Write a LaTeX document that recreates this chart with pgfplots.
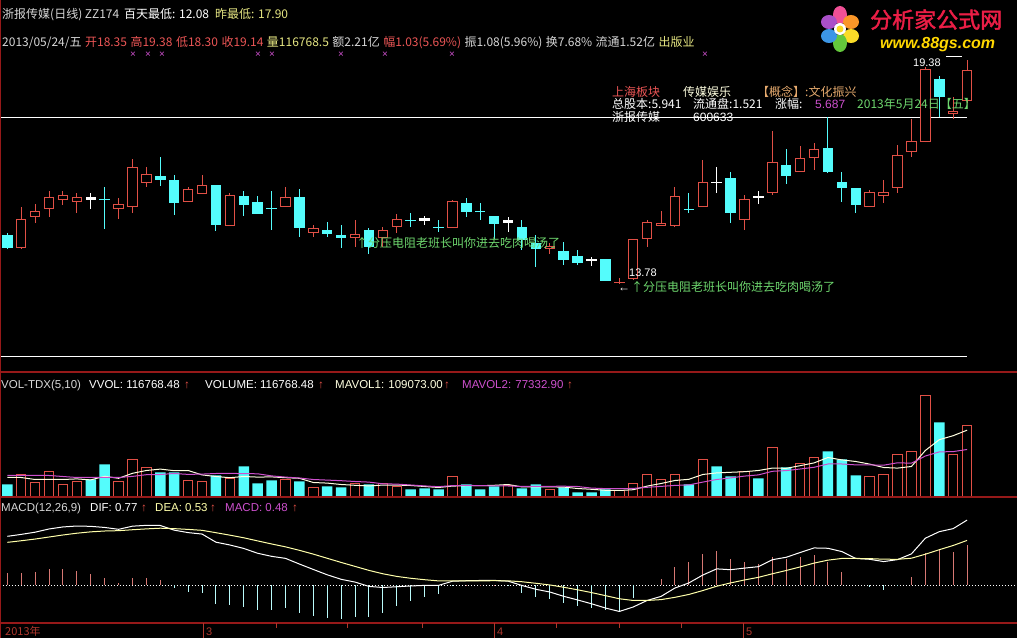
\documentclass[border=0pt]{standalone}
\usepackage{pgfplots}
\pgfplotsset{compat=1.18}
\usepackage{pgfplotstable}
\usepackage{fontspec}
\setmainfont{Liberation Sans}
\newfontfamily\cjk[AutoFakeBold=2]{Noto Sans CJK SC}

\definecolor{cRed}{RGB}{225,80,70}
\definecolor{cCyan}{RGB}{84,252,252}
\definecolor{cSep}{RGB}{150,25,25}
\definecolor{cGray}{RGB}{215,215,215}
\definecolor{cTxtRed}{RGB}{235,85,85}
\definecolor{cYel}{RGB}{230,230,130}
\definecolor{cPur}{RGB}{205,80,205}
\definecolor{cGreen}{RGB}{110,215,110}
\definecolor{cTan}{RGB}{230,170,110}
\definecolor{cMA5}{RGB}{255,255,225}
\definecolor{cDEA}{RGB}{255,255,170}
\definecolor{cHR}{RGB}{215,120,115}
\definecolor{cHC}{RGB}{185,250,250}
\definecolor{cAx}{RGB}{175,55,45}
\definecolor{lPink}{RGB}{240,80,150}
\definecolor{lOrange}{RGB}{250,150,40}
\definecolor{lYellow}{RGB}{250,220,40}
\definecolor{lGreen}{RGB}{100,200,60}
\definecolor{lBlue}{RGB}{60,150,230}
\definecolor{lPurple}{RGB}{170,80,200}
\definecolor{lRed}{RGB}{235,30,70}
\definecolor{lGold}{RGB}{255,215,0}

\newcommand{\fs}[1]{\fontsize{#1bp}{#1bp}\selectfont}
\newcommand{\gap}{\hspace{3.5bp}}

\pgfplotsset{
  wick/.style={forget plot, draw=none, mark=none,
    error bars/.cd, y dir=plus, y explicit, error mark=none,
    error bar style={draw=#1, line width=1bp, solid}},
  body/.style 2 args={forget plot, draw=none, mark=none,
    error bars/.cd, y dir=plus, y explicit, error mark=none,
    error bar style={draw=#1, line width=#2, solid, line cap=butt}},
  panel/.style={scale only axis, width=1017bp, xmin=-0.5248, xmax=72.588,
    hide axis, anchor=south west},
}

% up (red hollow) candles: i open high low close
\pgfplotstableread{
i o h l c
1 14.68 15.705 14.66 15.405
2 15.455 15.78 15.305 15.605
3 15.655 16.105 15.455 15.955
4 15.88 16.105 15.755 16.005
5 15.83 16.055 15.555 15.955
8 15.655 15.93 15.405 15.78
9 15.705 16.905 15.555 16.705
10 16.305 16.705 16.205 16.53
13 15.83 16.205 15.83 16.155
14 16.03 16.505 16.03 16.255
16 15.23 16.055 15.23 16.005
20 15.705 16.205 15.705 15.955
22 15.055 15.255 14.955 15.18
25 14.93 15.38 14.705 15.03
27 14.93 15.205 14.705 15.13
28 15.205 15.53 15.055 15.405
32 15.18 15.88 15.18 15.855
39 14.655 14.805 14.53 14.73
44 13.80 13.93 13.78 13.825
45 13.905 14.905 13.88 14.905
46 14.905 15.38 14.705 15.33
47 15.23 15.605 15.23 15.305
48 15.23 16.205 15.205 15.98
50 15.705 16.88 15.705 16.33
53 15.38 16.005 15.13 15.905
55 16.055 17.605 16.005 16.83
57 16.58 17.23 16.58 16.93
58 16.93 17.305 16.63 17.155
62 15.705 16.13 15.705 16.08
63 15.98 16.38 15.805 16.08
64 16.18 17.255 16.055 17.005
65 17.08 17.905 16.955 17.355
66 17.33 19.20 17.33 19.15
68 18.03 18.46 17.90 18.11
69 18.35 19.38 18.30 19.14
}\upc

% down (cyan filled) candles
\pgfplotstableread{
i o h l c
0 15.005 15.055 14.655 14.68
7 15.905 16.205 15.155 15.88
11 16.48 16.955 16.23 16.38
12 16.38 16.505 15.505 15.805
15 16.255 16.255 15.105 15.255
17 15.98 16.105 15.48 15.755
18 15.83 15.98 15.53 15.53
19 15.68 16.105 15.13 15.655
21 15.955 16.155 14.955 15.18
23 15.13 15.33 14.955 15.03
24 15.005 15.255 14.68 14.93
26 15.13 15.18 14.53 14.705
29 15.38 15.555 15.205 15.355
31 15.205 15.38 15.08 15.18
33 15.805 15.93 15.455 15.58
34 15.605 15.805 15.38 15.58
35 15.48 15.48 14.905 15.28
37 15.205 15.38 14.63 14.88
38 14.805 15.005 14.205 14.655
40 14.605 14.83 14.255 14.38
41 14.48 14.63 14.255 14.305
43 14.405 14.405 13.855 13.855
49 15.655 16.055 15.555 15.63
52 16.43 16.58 15.305 15.555
56 16.755 17.155 16.28 16.48
59 17.18 17.955 16.555 16.58
60 16.33 16.58 15.83 16.18
61 16.18 16.18 15.555 15.755
67 18.905 18.99 17.96 18.46
}\downc

% white (flat) candles
\pgfplotstableread{
i o h l c
6 15.955 16.055 15.655 15.88
30 15.43 15.48 15.255 15.355
36 15.38 15.455 15.08 15.305
42 14.405 14.455 14.23 14.355
51 16.33 16.705 16.055 16.305
54 15.98 16.105 15.78 15.93
}\whitec

% volume
\pgfplotstableread{
i v
1 36190
2 23030
3 41125
4 19740
5 24675
8 24675
9 60865
10 47705
13 26320
14 24675
16 29610
20 27965
22 14805
25 21385
27 21385
28 16450
32 32900
36 18095
39 11515
44 9870
45 21385
46 36190
47 27965
48 36190
50 60865
53 41125
55 80605
57 54285
58 64155
62 32900
63 36190
64 69090
65 74025
66 166145
68 69090
69 116768
}\volup

\pgfplotstableread{
i v
0 19740
6 27965
7 52640
11 39480
12 39480
15 34545
17 49350
18 21385
19 26320
21 24675
23 16450
24 14805
26 19740
29 11515
30 13160
31 11515
33 19740
34 11515
35 16450
37 13160
38 19740
40 14805
41 6580
42 6580
43 11515
49 19740
51 49350
52 32900
54 29610
56 47705
59 74025
60 60865
61 34545
67 121730
}\voldown

% volume moving averages
\pgfplotstableread{
i ma5 ma10
0 31255 34545
1 31255 34545
2 27965 34545
3 27965 34545
4 27965 32900
5 28952 31255
6 27307 31255
7 33229 31255
8 29939 31255
9 38164 33065
10 42770 35861
11 45073 36190
12 42441 37835
13 42770 36355
14 35532 36848
15 32900 37835
16 30926 38000
17 32900 37671
18 31913 37342
19 32242 33887
20 30926 31913
21 29939 30433
22 23030 27965
23 22043 26978
24 19740 25991
25 18424 24675
26 17437 23688
27 18753 20892
28 18753 20398
29 18095 18918
30 16450 17437
31 14805 16121
32 17108 17931
33 17766 18260
34 17766 17931
35 18424 17437
36 19740 17273
37 15792 16450
38 15792 16779
39 15792 16779
40 15463 16944
41 13160 16450
42 11844 13818
43 10199 12996
44 9870 12831
45 11186 13325
46 17108 15134
47 21385 16615
48 26320 18260
49 28294 19082
50 36190 23688
51 38822 27965
52 39809 30597
53 40796 33558
54 42770 35532
55 46718 41454
56 46389 42606
57 50666 45238
58 55272 48034
59 64155 53463
60 60207 53463
61 57575 51982
62 53298 51982
63 47705 51489
64 46718 55437
65 49350 54779
66 75670 66623
67 93436 73367
68 100016 73861
69 109073 77333
}\volma

% MACD: DIF, DEA
\pgfplotstableread{
i dif dea
0 0.578 0.507
1 0.601 0.526
2 0.627 0.546
3 0.665 0.570
4 0.689 0.594
5 0.700 0.615
6 0.696 0.631
7 0.683 0.641
8 0.661 0.645
9 0.698 0.656
10 0.708 0.666
11 0.706 0.674
12 0.651 0.669
13 0.622 0.660
14 0.605 0.649
15 0.509 0.621
16 0.476 0.592
17 0.435 0.561
18 0.378 0.524
19 0.342 0.488
20 0.318 0.454
21 0.251 0.413
22 0.187 0.368
23 0.124 0.319
24 0.071 0.270
25 0.038 0.223
26 -0.013 0.176
27 -0.026 0.136
28 -0.017 0.105
29 -0.008 0.083
30 -0.001 0.066
31 -0.001 0.052
32 0.048 0.052
33 0.054 0.052
34 0.057 0.053
35 0.058 0.054
36 0.049 0.053
37 -0.002 0.042
38 -0.047 0.024
39 -0.079 0.004
40 -0.130 -0.023
41 -0.173 -0.053
42 -0.218 -0.086
43 -0.268 -0.122
44 -0.309 -0.159
45 -0.256 -0.179
46 -0.179 -0.179
47 -0.131 -0.169
48 -0.032 -0.142
49 0.028 -0.108
50 0.121 -0.062
51 0.194 -0.011
52 0.184 0.028
53 0.203 0.063
54 0.220 0.094
55 0.302 0.136
56 0.331 0.175
57 0.387 0.217
58 0.441 0.262
59 0.437 0.297
60 0.398 0.317
61 0.317 0.317
62 0.307 0.315
63 0.280 0.308
64 0.303 0.307
65 0.371 0.320
66 0.556 0.367
67 0.633 0.420
68 0.669 0.470
69 0.770 0.530
}\macdl

\begin{document}
\begin{tikzpicture}
\useasboundingbox (0,0) rectangle (1017bp,638bp);
\fill[black] (0,0) rectangle (1017bp,638bp);

% ---------------- price panel ----------------
\begin{axis}[panel, at={(0bp,266bp)}, height=372bp, ymin=11.58, ymax=20.88]
\addplot[white, line width=1bp, forget plot] coordinates {(-0.525,17.955) (69,17.955)};
\addplot[white, line width=1bp, forget plot] coordinates {(-0.525,11.955) (69,11.955)};
\addplot[wick=cRed] table[x=i, y=l, y error expr=\thisrow{h}-\thisrow{l}] {\upc};
\addplot[body={cRed}{10.5bp}] table[x=i, y=o, y error expr=\thisrow{c}-\thisrow{o}] {\upc};
\addplot[body={black}{8.5bp}] table[x=i, y expr=\thisrow{o}+0.025, y error expr={max(\thisrow{c}-\thisrow{o}-0.05,0)}] {\upc};
\addplot[wick=cCyan] table[x=i, y=l, y error expr=\thisrow{h}-\thisrow{l}] {\downc};
\addplot[body={cCyan}{10.5bp}] table[x=i, y=c, y error expr=\thisrow{o}-\thisrow{c}] {\downc};
\addplot[wick=white] table[x=i, y=l, y error expr=\thisrow{h}-\thisrow{l}] {\whitec};
\addplot[body={white}{10.5bp}] table[x=i, y expr={min(\thisrow{o},\thisrow{c})}, y error expr={abs(\thisrow{o}-\thisrow{c})}] {\whitec};
\end{axis}

% ---------------- volume panel ----------------
\begin{axis}[panel, at={(0bp,141.5bp)}, height=124.5bp, ymin=0, ymax=204802]
\addplot[ybar, bar width=9.5bp, bar shift=0pt, draw=cRed, fill=black, line width=1bp, forget plot] table[x=i, y=v] {\volup};
\addplot[ybar, bar width=10.5bp, bar shift=0pt, draw=none, fill=cCyan, forget plot] table[x=i, y=v] {\voldown};
\addplot[cMA5, line width=1bp, mark=none] table[x=i, y=ma5] {\volma};
\addplot[cPur, line width=1bp, mark=none] table[x=i, y=ma10] {\volma};
\end{axis}

% ---------------- MACD panel ----------------
\begin{axis}[panel, at={(0bp,15bp)}, height=126bp, ymin=-0.4451, ymax=1.0425]
\addplot[white, line width=0.8bp, dash pattern=on 1bp off 2bp] coordinates {(-0.525,0) (72.588,0)};
\addplot[ycomb, cHR, line width=1bp, mark=none] coordinates {
(0,0.142) (1,0.150) (2,0.161) (3,0.189) (4,0.189) (5,0.169) (6,0.130) (7,0.083) (8,0.031) (9,0.083) (10,0.083) (11,0.063)
(33,0.004) (34,0.008) (35,0.008)
(47,0.075) (48,0.220) (49,0.272) (50,0.366) (51,0.409) (52,0.311) (53,0.280) (54,0.252) (55,0.331) (56,0.311) (57,0.339) (58,0.358) (59,0.280) (60,0.161)
(65,0.102) (66,0.378) (67,0.425) (68,0.398) (69,0.480)};
\addplot[ycomb, cHC, line width=1bp, mark=none] coordinates {
(12,-0.035) (13,-0.075) (14,-0.087) (15,-0.224) (16,-0.232) (17,-0.252) (18,-0.291) (19,-0.291) (20,-0.272) (21,-0.323) (22,-0.362) (23,-0.390) (24,-0.398) (25,-0.370) (26,-0.378) (27,-0.323) (28,-0.244) (29,-0.181) (30,-0.134) (31,-0.106) (32,-0.008)
(36,-0.008) (37,-0.087) (38,-0.142) (39,-0.165) (40,-0.213) (41,-0.240) (42,-0.264) (43,-0.291) (44,-0.299) (45,-0.154)
(62,-0.016) (63,-0.055) (64,-0.008)};
\addplot[white, line width=1bp, mark=none] table[x=i, y=dif] {\macdl};
\addplot[cDEA, line width=1bp, mark=none] table[x=i, y=dea] {\macdl};
\end{axis}

% ---------------- frame, texts ----------------
\begin{scope}[x=1bp, y=-1bp, shift={(0bp,638bp)}]
\draw[cSep, line width=1.2bp] (0,372) -- (1017,372);
\draw[cSep, line width=1.2bp] (0,497) -- (1017,497);
\draw[cSep, line width=1.2bp] (0,623) -- (1017,623);
\draw[cSep, line width=1.5bp] (0.75,0) -- (0.75,638);
% bottom ticks
\foreach \xx in {203,494,743} \draw[cAx, line width=1bp] (\xx,623) -- (\xx,638);
\foreach \xx in {276,347,422,556,619,681} \draw[cAx, line width=1bp] (\xx,623) -- (\xx,628);
\node[anchor=base west, inner sep=0, text=cAx, font=\fs{11}] at (5,636) {\cjk 2013年};
\node[anchor=base west, inner sep=0, text=cAx, font=\fs{11}] at (206,636) {3};
\node[anchor=base west, inner sep=0, text=cAx, font=\fs{11}] at (497,636) {4};
\node[anchor=base west, inner sep=0, text=cAx, font=\fs{11}] at (746,636) {5};

% header row 1
\node[anchor=base west, inner sep=0, text=cGray, font=\fs{12}] at (2,19) {\cjk 浙报传媒(日线) ZZ174};
\node[anchor=base west, inner sep=0, text=white, font=\fs{12}] at (124,19) {\cjk 百天最低: 12.08};
\node[anchor=base west, inner sep=0, text=cYel, font=\fs{12}] at (215,19) {\cjk 昨最低: 17.90};
% header row 2
\node[anchor=base west, inner sep=0, font=\fs{12}] at (2,47) {\cjk
\textcolor{cGray}{2013/05/24/五}\gap
\textcolor{cTxtRed}{开18.35}\gap
\textcolor{cTxtRed}{高19.38}\gap
\textcolor{cTxtRed}{低18.30}\gap
\textcolor{cTxtRed}{收19.14}\gap
\textcolor{cYel}{量116768.5}\gap
\textcolor{cGray}{额2.21亿}\gap
\textcolor{cTxtRed}{幅1.03(5.69\%)}\gap
\textcolor{cGray}{振1.08(5.96\%)}\gap
\textcolor{cGray}{换7.68\%}\gap
\textcolor{cGray}{流通1.52亿}\gap
\textcolor{cYel}{出版业}};
% purple markers
\foreach \xx in {133,148,162,258,272,341,385,452,705}
  \node[text=cPur, inner sep=0, font=\fs{10}] at (\xx,55) {×};

% info box
\node[anchor=base west, inner sep=0, text=cTxtRed, font=\fs{12}] at (612,97) {\cjk 上海板块};
\node[anchor=base west, inner sep=0, text=cMA5, font=\fs{12}] at (683,97) {\cjk 传媒娱乐};
\node[anchor=base west, inner sep=0, text=cTan, font=\fs{12}] at (757,97) {\cjk 【概念】:文化振兴};
\node[anchor=base west, inner sep=0, text=white, font=\fs{12}] at (612,109) {\cjk 总股本:5.941};
\node[anchor=base west, inner sep=0, text=white, font=\fs{12}] at (693,109) {\cjk 流通盘:1.521};
\node[anchor=base west, inner sep=0, text=white, font=\fs{12}] at (775,109) {\cjk 涨幅:};
\node[anchor=base west, inner sep=0, text=cPur, font=\fs{12}] at (815,109) {5.687};
\node[anchor=base west, inner sep=0, text=cGreen, font=\fs{12}] at (857,109) {\cjk 2013年5月24日【五】};
\node[anchor=base west, inner sep=0, text=white, font=\fs{12}] at (612,122) {\cjk 浙报传媒};
\node[anchor=base west, inner sep=0, text=white, font=\fs{12}] at (693,122) {600633};

% annotations
\node[anchor=base west, inner sep=0, text=white, font=\fs{11}] at (913,67) {19.38};
\draw[white, line width=1bp] (946,57) -- (962,57);
\node[anchor=base west, inner sep=0, text=white, font=\fs{11}] at (629,277) {13.78};
\node[anchor=base west, inner sep=0, text=cGreen, font=\fs{12}] at (356,248) {\cjk ↑分压电阻老班长叫你进去吃肉喝汤了};
\node[anchor=base west, inner sep=0, text=white, font=\fs{12}] at (618,292) {←};
\node[anchor=base west, inner sep=0, text=cGreen, font=\fs{12}] at (631,292) {\cjk ↑分压电阻老班长叫你进去吃肉喝汤了};

% volume label
\node[anchor=base west, inner sep=0, text=cGray, font=\fs{11.5}] at (1,389) {VOL-TDX(5,10)};
\node[anchor=base west, inner sep=0, text=white, font=\fs{11.5}] at (89,389) {VVOL: 116768.48};
\node[anchor=base west, inner sep=0, text=cRed, font=\fs{11.5}] at (184,389) {↑};
\node[anchor=base west, inner sep=0, text=white, font=\fs{11.5}] at (205,389) {VOLUME: 116768.48};
\node[anchor=base west, inner sep=0, text=cRed, font=\fs{11.5}] at (318,389) {↑};
\node[anchor=base west, inner sep=0, text=cMA5, font=\fs{11.5}] at (335,389) {MAVOL1: 109073.00};
\node[anchor=base west, inner sep=0, text=cRed, font=\fs{11.5}] at (444,389) {↑};
\node[anchor=base west, inner sep=0, text=cPur, font=\fs{11.5}] at (462,389) {MAVOL2: 77332.90};
\node[anchor=base west, inner sep=0, text=cRed, font=\fs{11.5}] at (567,389) {↑};
% macd label
\node[anchor=base west, inner sep=0, text=cGray, font=\fs{11.5}] at (1,512) {MACD(12,26,9)};
\node[anchor=base west, inner sep=0, text=white, font=\fs{11.5}] at (90,512) {DIF: 0.77};
\node[anchor=base west, inner sep=0, text=cRed, font=\fs{11.5}] at (141,512) {↑};
\node[anchor=base west, inner sep=0, text=cDEA, font=\fs{11.5}] at (155,512) {DEA: 0.53};
\node[anchor=base west, inner sep=0, text=cRed, font=\fs{11.5}] at (210,512) {↑};
\node[anchor=base west, inner sep=0, text=cPur, font=\fs{11.5}] at (225,512) {MACD: 0.48};
\node[anchor=base west, inner sep=0, text=cRed, font=\fs{11.5}] at (292,512) {↑};

% logo
\fill[lPink] (840,15) ellipse (7 and 9);
\fill[lOrange] (851,22) ellipse (8 and 7);
\fill[lYellow] (851,36) ellipse (8 and 7);
\fill[lGreen] (840,43) ellipse (7 and 9);
\fill[lBlue] (829,36) ellipse (8 and 7);
\fill[lPurple] (829,22) ellipse (8 and 7);
\fill[white] (840,29) circle (6);
\fill[lYellow] (840,29) circle (3.5);
\node[anchor=base west, inner sep=0, text=lRed, font=\fs{22}] at (870,28) {\cjk\bfseries 分析家公式网};
\node[anchor=base west, inner sep=0, text=lGold, font=\fs{16}\bfseries\itshape] at (880,49) {www.88gs.com};
\end{scope}
\end{tikzpicture}
\end{document}
